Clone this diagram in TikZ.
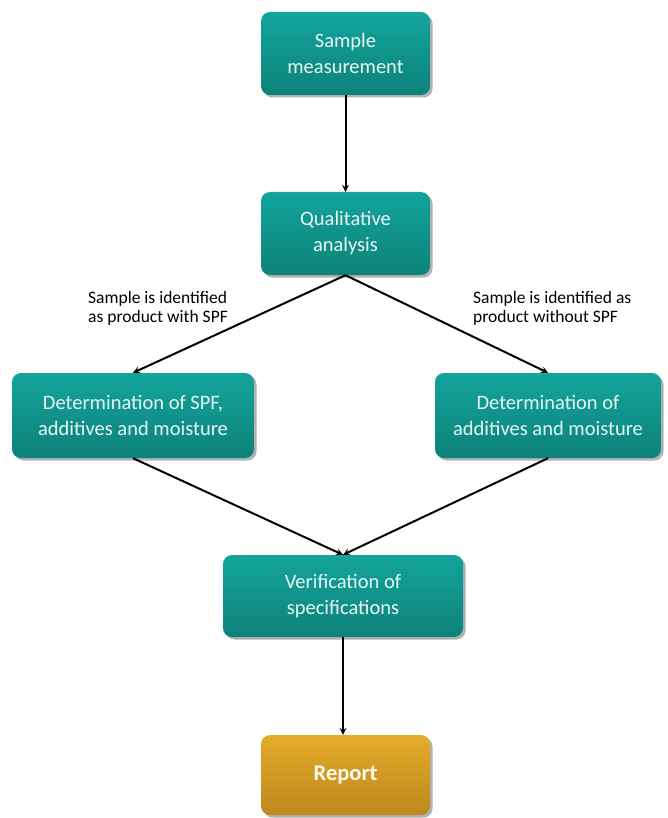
\documentclass[tikz,border=0pt]{standalone}
\usepackage{fontspec}
\setmainfont{Carlito}
\usepackage{xcolor}
\usetikzlibrary{arrows,shadows}

\definecolor{tealtop}{HTML}{13A49C}
\definecolor{tealbot}{HTML}{0D8279}
\definecolor{goldtop}{HTML}{E4AB2B}
\definecolor{goldbot}{HTML}{BD881C}

\tikzset{
  stepbox/.style={rounded corners=9pt, inner sep=0pt, align=center,
    top color=tealtop, bottom color=tealbot, text=white!90!tealtop,
    font=\fontsize{20.5}{26}\selectfont,
    drop shadow={shadow xshift=2.5pt, shadow yshift=-2.5pt, opacity=0.3, fill=black}},
  reportbox/.style={stepbox, top color=goldtop, bottom color=goldbot,
    text=white!92!goldtop, font=\fontsize{22.5}{26}\selectfont\bfseries},
  branchlabel/.style={anchor=north west, align=left, inner sep=0pt,
    font=\fontsize{17.5}{19.5}\selectfont},
  flow/.style={->, >=stealth, line width=2pt, black}
}

\begin{document}
\begin{tikzpicture}[x=1pt,y=-1pt]
    \useasboundingbox (0,0) rectangle (667,818);
    % boxes
    \node[stepbox, minimum width=169pt, minimum height=83pt] (measure) at (345.5,53.5) {Sample\\measurement};
    \node[stepbox, minimum width=169pt, minimum height=83pt] (quali) at (345.5,233.5) {Qualitative\\analysis};
    \node[stepbox, minimum width=242pt, minimum height=85pt] (withspf) at (133,415.5) {Determination of SPF,\\additives and moisture};
    \node[stepbox, minimum width=226pt, minimum height=85pt] (nospf) at (548,415.5) {Determination of\\additives and moisture};
    \node[stepbox, minimum width=240pt, minimum height=82pt] (verify) at (343,596) {Verification of\\specifications};
    \node[reportbox, minimum width=169pt, minimum height=80pt] (report) at (345.5,775) {Report};
    % branch texts
    \node[branchlabel] (lblwith) at (88,291) {Sample is identified\\as product with SPF};
    \node[branchlabel] (lblwithout) at (473,291) {Sample is identified as\\product without SPF};
    % arrows
    \draw[flow] (measure.south) -- (quali.north);
    \draw[flow] (quali.south) -- (withspf.north);
    \draw[flow] (quali.south) -- (nospf.north);
    \draw[flow] (withspf.south) -- (verify.north);
    \draw[flow] (nospf.south) -- (verify.north);
    \draw[flow] (verify.south) -- (verify.south |- report.north);
\end{tikzpicture}
\end{document}
